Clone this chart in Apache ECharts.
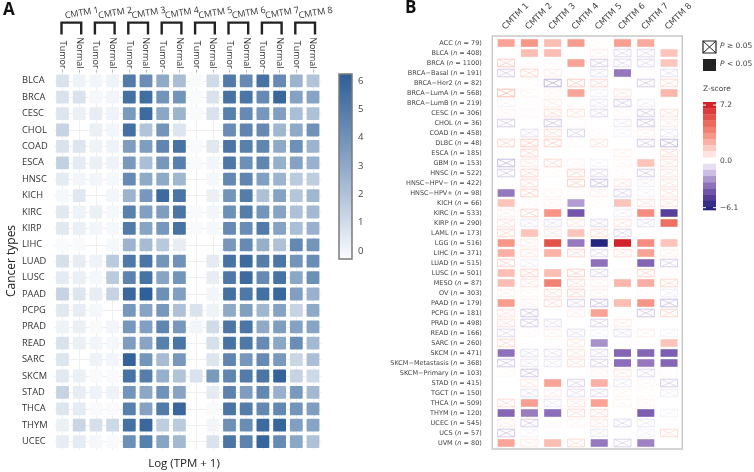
<!DOCTYPE html>
<html><head><meta charset="utf-8">
<style>html,body{margin:0;padding:0;background:#fff}#c{width:754px;height:472px}</style>
<script src="https://cdn.jsdelivr.net/npm/echarts@6/dist/echarts.min.js"></script>
</head><body><div id="c"></div>
<script>
const genes=['CMTM 1','CMTM 2','CMTM 3','CMTM 4','CMTM 5','CMTM 6','CMTM 7','CMTM 8'];
const tissues=['Tumor','Normal','Tumor','Normal','Tumor','Normal','Tumor','Normal','Tumor','Normal','Tumor','Normal','Tumor','Normal','Tumor','Normal'];
const cancersA=['BLCA','BRCA','CESC','CHOL','COAD','ESCA','HNSC','KICH','KIRC','KIRP','LIHC','LUAD','LUSC','PAAD','PCPG','PRAD','READ','SARC','SKCM','STAD','THCA','THYM','UCEC'];
const logTpm=[
[1.0,.4,.3,.4,5,4.3,3.2,2.4,.1,1.3,5,4.4,5.3,4.4,2.8,2.2],
[1.0,1.0,.2,.3,5.4,5.5,4,4,.1,1.0,5.3,5.2,4.4,5.7,3.5,3.4],
[.9,.5,.6,.4,3.8,5.6,3.3,2.8,.1,1.0,4.8,4.4,3.9,3.6,2.4,2.3],
[1.6,0,.5,.3,5.4,2.2,4,.9,0,0,4.3,4.6,4.4,2.7,3.2,4.1],
[1.0,.9,.4,.4,3.7,3.7,4.6,5.3,.1,.8,5.2,4.8,4.6,3.2,4.2,2.8],
[1.7,.7,.5,.4,3.8,2.4,3.9,4.8,.1,.3,5.1,4.2,4.6,3.0,3.5,2.9],
[.7,.3,.3,.2,4.4,3.2,3.2,2.7,0,.2,4.5,4.6,3.6,2.8,1.9,1.8],
[.2,.8,0,.3,2.8,3.9,5.6,5.2,0,.5,4,4.9,2.3,3.5,2.1,2.7],
[.8,.4,.5,.2,4.8,3.6,3.7,5.2,.1,.3,4.2,4.9,4,3.4,2.3,2.6],
[.8,.5,.3,.2,5,3.4,3.9,5.3,.1,.2,4.4,4.3,5,3.5,2.4,2.9],
[.1,.1,0,.2,2.8,2.5,2,.6,0,0,3.9,4.4,3,2.3,4.5,4],
[1.1,.6,.4,1.9,5.1,5.2,4,4.1,0,.7,5.3,5.6,4.9,5.2,4,4.3],
[.7,.5,.2,1.9,4.7,5.3,3.4,4,0,.6,5.1,5.6,4.4,5.3,3.3,4.2],
[1.6,.9,.6,1.6,5.7,6,4.2,3.6,0,.3,5.4,5.1,5.4,5.7,3.6,2.9],
[.8,.6,.2,0,3.9,3.4,3.9,2.3,1,.4,3.2,3.6,2.7,3.5,1.6,3.2],
[.4,.5,.1,.3,3.9,3.6,4.6,3.9,.3,1.3,5.2,5.2,3.2,3.7,3.5,3.4],
[1.0,.5,.3,.2,3.7,3.4,4.8,5.2,0,1.1,5.3,5.1,4.4,3.3,4.3,2.6],
[.9,0,.4,.3,5.9,4,2.5,3.9,0,.9,4.6,3.9,4.4,3.8,1.5,2.4],
[.8,.5,.1,.1,5.3,4.9,3,2.2,1,3.8,4.6,5,5.2,5.9,1.6,1.4],
[1.6,.6,.4,.4,4,3.3,4.1,3.4,0,.7,4.7,3.7,4.5,2.9,3.8,2.6],
[.9,.7,.1,.1,4.8,3.5,5,5.7,0,.1,5.2,4.9,4.5,4.5,4,3.7],
[.5,1.5,1.1,1.4,5.4,5.7,1.8,1.9,0,.3,4.2,4.3,5.6,5.8,3.6,3.4],
[.6,.7,.2,.1,4.2,4.8,3.4,2.6,0,1.0,5.2,4.7,5.8,4.4,3.3,2.3]];
const logTicks=[0,1,2,3,4,5,6];
const logRange=[-0.28,6.25];

const cancersB=['ACC','BLCA','BRCA','BRCA−Basal','BRCA−Her2','BRCA−LumA','BRCA−LumB','CESC','CHOL','COAD','DLBC','ESCA','GBM','HNSC','HNSC−HPV−','HNSC−HPV+','KICH','KIRC','KIRP','LAML','LGG','LIHC','LUAD','LUSC','MESO','OV','PAAD','PCPG','PRAD','READ','SARC','SKCM','SKCM−Metastasis','SKCM−Primary','STAD','TGCT','THCA','THYM','UCEC','UCS','UVM'];
const countsB=[79,408,1100,191,82,568,219,306,36,458,48,185,153,522,422,98,66,533,290,173,516,371,515,501,87,303,179,181,498,166,260,471,368,103,415,150,509,120,545,57,80];
const zScores=[
[2.8,3.2,2,3,.1,2.9,2.6,.05],
[.05,2,2,.05,.3,-.6,-.6,1.8],
[1,.1,.1,2.8,-.8,-.6,-.6,1.7],
[-.8,.8,.4,.05,-.5,-3,.05,-.5],
[0,.1,-1.2,1,.8,.05,-.8,.7],
[1.3,.2,.2,2.7,-.3,.5,.05,2.2],
[-.2,0,.4,.1,-.4,-.8,-.3,0],
[.2,.1,.7,.6,-.6,.2,-.8,.6],
[-.8,0,-.9,.1,0,-.4,-.9,.4],
[0,-.5,.7,-.7,.1,-.2,.3,-.4],
[.8,1,.9,.1,.5,0,-.8,-1.1],
[0,.8,0,0,0,.3,.05,.7],
[-1.1,.5,.8,.2,-.2,.2,1.8,.6],
[-.8,.8,.1,.8,-.6,.1,-.8,.5],
[0,.7,0,.9,-1,.5,-.3,.6],
[-3,.9,.2,.1,.3,-.7,-.2,.6],
[1.8,.1,.2,-2.3,.1,1.8,.6,.6],
[.3,.9,3.3,-3.9,0,-.3,3.5,-4.7],
[.6,-.4,-.5,.5,-.6,.5,-.5,4.6],
[.8,1.8,.5,1.8,.7,-.7,0,.05],
[3.2,.4,5.6,-3,-6.1,7.2,3.5,1.8],
[2.4,.5,2.3,.8,-.6,.6,2.8,.3],
[.9,-.3,0,0,-3.2,0,-3.5,-.8],
[2,.9,2,.9,-.7,.1,.8,.1],
[2,.6,4,.7,.3,2.2,2.5,.8],
[.3,.2,.7,.8,.3,0,.1,-.3],
[3,.3,.7,-.7,-1,2,3.3,-1],
[.6,-.9,0,.3,2.8,.1,-.9,.8],
[.6,-.8,-.5,0,-.7,.4,.05,0],
[-.6,.1,.3,-.5,-.2,-.5,.3,-.2],
[.8,0,.1,.5,-2.5,.05,.05,1.8],
[-3.2,-.5,-.5,.6,-.6,-3.5,-3.5,-3.7],
[-.9,-.4,-.4,.6,-.7,-3.3,-3,-3.5],
[.1,-.9,0,0,.2,.5,-.6,.1],
[0,.5,2.8,-.7,2.4,-.4,.2,-.8],
[0,-.5,.4,-.5,-.6,.2,.1,-.3],
[.7,2.9,-.4,.5,2.8,.2,.2,0],
[-3.5,-2.9,-3.3,.7,.7,0,-3.7,-.2],
[.4,-.8,.1,.2,.5,-.6,-.4,.05],
[-.9,-.2,0,0,-.4,.05,-.2,.7],
[2.7,.4,2,.7,-3,-.7,-2.8,.05]];
const pSignificant=[
'11110110','01100001','00010001','00000100','00000000','00010001','00000000','00000000','00000000','00000000','00000000','00000000','00000010','00000000','00000000','10000000','10010100','00110011','00000001','01010000','10111111','10100010','00001010','10100000','10100110','00000000','10000110','00001000','00000000','00000000','00001001','10000111','00000111','00000000','00101000','00000000','01001000','11100010','00000000','00000000','10101010'];
const zStops=[-6.1,-4.5,-3,-1.5,0,1.8,3,4.8,7.2];
const zStopColors=['#24247d','#5f43a0','#9678bf','#cfc3e4','#ffffff','#fdc4bb','#f89c8e','#ec6b5b','#d2232b'];
const zBandEdges=[7.6,6.8,6,5.2,4.4,3.6,2.8,2,1.2,.4,-.4,-1.2,-2,-2.8,-3.6,-4.4,-5.2,-6,-6.4];
const zLabels=[7.2,0,-6.1];

function zColor(z){
  if(z<=zStops[0])return zStopColors[0];
  for(let i=1;i<zStops.length;i++){
    if(z<=zStops[i]){return echarts.color.lerp((z-zStops[i-1])/(zStops[i]-zStops[i-1]),[zStopColors[i-1],zStopColors[i]]);}
  }
  return zStopColors[zStopColors.length-1];
}
function logColor(v){return echarts.color.lerp(Math.min(v/6.1,1),['#fcfdfe','#2c5e96']);}

const fA='"Open Sans"',fB='"DejaVu Sans"';
const aData=[];logTpm.forEach((r,y)=>r.forEach((v,x)=>aData.push([x,y,v])));
const bData=[];zScores.forEach((r,y)=>r.forEach((z,x)=>bData.push([x,y,z,+pSignificant[y][x]])));

const chart=echarts.init(document.getElementById('c'),null,{renderer:'canvas'});
const gridA={left:54.15,top:72.6,width:267.2,height:377.2};
const gridB={left:494.5,top:38,width:186.2,height:410};
chart.setOption({
 animation:false,
 grid:[gridA,
  {left:339,top:52.67,width:13,height:226.67},
  gridB,
  {left:492.3,top:36,width:190,height:413,show:true,borderColor:'#c9c9c9',borderWidth:1.5,backgroundColor:'transparent'},
  {left:703,top:102,width:13,height:108}],
 xAxis:[
  {gridIndex:0,type:'category',position:'top',data:tissues,
   axisLine:{show:false},axisTick:{show:true,alignWithLabel:true,length:3,lineStyle:{color:'#bbb'}},
   splitLine:{show:true,alignWithLabel:true,lineStyle:{color:'#efefef',width:1}},
   axisLabel:{interval:0,rotate:90,fontFamily:fA,fontSize:9,color:'#333',margin:4,padding:[5,0,0,0]}},
  {gridIndex:1,type:'category',data:[''],show:false},
  {gridIndex:2,type:'category',position:'top',data:genes,offset:2,
   axisLine:{show:false},axisTick:{alignWithLabel:true,length:4,lineStyle:{color:'#999'}},
   axisLabel:{show:false}},
  {gridIndex:3,type:'value',show:false},
  {gridIndex:4,type:'category',data:[''],show:false}],
 yAxis:[
  {gridIndex:0,type:'category',inverse:true,data:cancersA,
   axisLine:{show:false},axisTick:{show:false},
   splitLine:{show:true,alignWithLabel:true,lineStyle:{color:'#efefef',width:1}},
   axisLabel:{interval:0,align:'left',margin:32.15,fontFamily:fA,fontSize:9.3,color:'#333'}},
  {gridIndex:1,type:'value',position:'right',min:-1,max:7,interval:1,
   axisLine:{show:false},axisTick:{show:false},splitLine:{show:false},
   axisLabel:{margin:6,fontFamily:fA,fontSize:9.5,color:'#444',
     formatter:v=>logTicks.indexOf(v)>=0?String(v):''}},
  {gridIndex:2,type:'category',inverse:true,data:cancersB,offset:2.2,
   axisLine:{show:false},axisTick:{alignWithLabel:true,length:5,lineStyle:{color:'#999'}},splitLine:{show:false},
   axisLabel:{interval:0,margin:10.5,fontFamily:fB,fontSize:6.5,color:'#444',
     formatter:(v,i)=>'{t|'+v+' (}{i|n}{t| = '+countsB[i]+')}',
     rich:{t:{fontFamily:fB,fontSize:6.5,color:'#444'},i:{fontFamily:fB,fontSize:6.5,fontStyle:'italic',color:'#444'}}}},
  {gridIndex:3,type:'value',show:false},
  {gridIndex:4,type:'value',position:'right',min:-6.4,max:7.6,
   axisLine:{show:false},splitLine:{show:false},
   axisTick:{show:false},
   axisLabel:{margin:4,fontFamily:fB,fontSize:7.5,color:'#444',customValues:zLabels,
     formatter:v=>(v<0?'−':'')+Math.abs(v).toFixed(1)}}],
 series:[
  {type:'custom',xAxisIndex:0,yAxisIndex:0,data:aData,encode:{x:0,y:1},z:3,silent:true,
   renderItem(p,api){
     const v=api.value(2);if(v<=0)return null;
     const c=api.coord([api.value(0),api.value(1)]);
     const w=12.8,h=12.8;
     return {type:'rect',shape:{x:c[0]-w/2,y:c[1]-h/2,width:w,height:h,r:.8},style:{fill:logColor(v)}};
   }},
  {type:'custom',xAxisIndex:0,yAxisIndex:0,data:genes.map((g,i)=>[2*i,2*i+1,i]),encode:{x:[0,1]},z:4,silent:true,
   renderItem(p,api){
     const top=p.coordSys.y;
     const x0=api.coord([api.value(0),0])[0]-1,x1=api.coord([api.value(1),0])[0]+2;
     return {type:'group',children:[
       {type:'polyline',shape:{points:[[x0,top-38],[x0,top-50],[x1,top-50],[x1,top-38]]},style:{fill:null,stroke:'#222',lineWidth:2.4}},
       {type:'text',x:(x0+x1)/2+10.5,y:13,rotation:10*Math.PI/180,style:{text:genes[api.value(2)],align:'center',verticalAlign:'middle',fontFamily:fA,fontSize:9,fill:'#333'}}
     ]};
   }},
  {type:'custom',xAxisIndex:1,yAxisIndex:1,data:[[0,logRange[0],logRange[1]]],encode:{x:0,y:[1,2]},silent:true,
   renderItem(p,api){
     const a=api.coord([0,api.value(1)]),b=api.coord([0,api.value(2)]),s=p.coordSys;
     return {type:'rect',shape:{x:s.x,y:b[1],width:s.width,height:a[1]-b[1]},
       style:{fill:new echarts.graphic.LinearGradient(0,0,0,1,[{offset:0,color:'#2c5e96'},{offset:.5,color:'#90a9c9'},{offset:1,color:'#fcfdfe'}]),stroke:'#7a7a7a',lineWidth:1.5}};
   }},
  {type:'custom',xAxisIndex:2,yAxisIndex:2,data:bData,encode:{x:0,y:1},z:3,silent:true,
   renderItem(p,api){
     const z=api.value(2),sig=api.value(3);
     const c=api.coord([api.value(0),api.value(1)]);
     const w=17,h=7.6,x=c[0]-w/2,y=c[1]-h/2;
     const col=zColor(sig?z:z*1.5);
     if(z===0)return null;
     if(sig)return {type:'rect',shape:{x,y,width:w,height:h},style:{fill:col}};
     return {type:'group',children:[
       {type:'rect',shape:{x,y,width:w,height:h},style:{fill:'#fff',stroke:col,lineWidth:1}},
       {type:'line',shape:{x1:x,y1:y,x2:x+w,y2:y+h},style:{stroke:col,lineWidth:.8}},
       {type:'line',shape:{x1:x,y1:y+h,x2:x+w,y2:y},style:{stroke:col,lineWidth:.8}}]};
   }},
  {type:'custom',xAxisIndex:2,yAxisIndex:2,data:genes.map((g,i)=>[i,0,i]),encode:{x:0,y:1},z:4,silent:true,
   renderItem(p,api){
     const c=api.coord([api.value(0),0]);
     return {type:'text',x:c[0]+9.5,y:16.5,rotation:Math.PI/4,style:{text:genes[api.value(2)],align:'center',verticalAlign:'middle',fontFamily:fB,fontSize:8.5,fill:'#444'}};
   }},
  {type:'custom',xAxisIndex:4,yAxisIndex:4,data:zBandEdges.slice(0,-1).map((e,i)=>[0,e,zBandEdges[i+1]]),encode:{x:0,y:[1,2]},silent:true,
   renderItem(p,api){
     const hi=api.value(1),lo=api.value(2),a=api.coord([0,hi]),b=api.coord([0,lo]),s=p.coordSys;
     return {type:'rect',shape:{x:s.x,y:a[1],width:s.width,height:b[1]-a[1]+.3},style:{fill:zColor((hi+lo)/2)}};
   }},
  {type:'custom',xAxisIndex:4,yAxisIndex:4,z:5,data:[[0,7.2],[0,-6.1]],encode:{x:0,y:1},silent:true,
   renderItem(p,api){
     const a=api.coord([0,api.value(1)]),s=p.coordSys;
     return {type:'group',children:[
       {type:'line',shape:{x1:s.x,y1:a[1],x2:s.x+3,y2:a[1]},style:{stroke:'#fff',lineWidth:1}},
       {type:'line',shape:{x1:s.x+s.width-3,y1:a[1],x2:s.x+s.width,y2:a[1]},style:{stroke:'#fff',lineWidth:1}}]};
   }}
 ],
 graphic:[
  {type:'text',x:3,y:2,style:{text:'A',fontFamily:fA,fontWeight:'bold',fontSize:17,fill:'#111'}},
  {type:'text',x:405,y:0,style:{text:'B',fontFamily:fA,fontWeight:'bold',fontSize:17,fill:'#111'}},
  {type:'text',x:12,y:261,rotation:Math.PI/2,style:{text:'Cancer types',align:'center',verticalAlign:'middle',fontFamily:fA,fontSize:12,fill:'#222'}},
  {type:'text',x:184,y:464,style:{text:'Log (TPM + 1)',align:'center',verticalAlign:'middle',fontFamily:fA,fontSize:11.5,fill:'#222'}},
  {type:'group',x:703,y:41,children:[
    {type:'rect',shape:{x:0,y:0,width:13,height:12},style:{fill:'#fff',stroke:'#222',lineWidth:1.2}},
    {type:'line',shape:{x1:0,y1:0,x2:13,y2:12},style:{stroke:'#222',lineWidth:1}},
    {type:'line',shape:{x1:0,y1:12,x2:13,y2:0},style:{stroke:'#222',lineWidth:1}}]},
  {type:'rect',shape:{x:703,y:59,width:13,height:12},style:{fill:'#222'}},
  {type:'text',x:720,y:46,style:{text:'{i|P} ≥ 0.05',verticalAlign:'middle',fontFamily:fB,fontSize:7.5,fill:'#444',rich:{i:{fontStyle:'italic',fontFamily:fB,fontSize:7.5,fill:'#444'}}}},
  {type:'text',x:720,y:64,style:{text:'{i|P} < 0.05',verticalAlign:'middle',fontFamily:fB,fontSize:7.5,fill:'#444',rich:{i:{fontStyle:'italic',fontFamily:fB,fontSize:7.5,fill:'#444'}}}},
  {type:'text',x:703,y:89,style:{text:'Z-score',verticalAlign:'middle',fontFamily:fB,fontSize:7.5,fill:'#444'}}
 ]
});
</script></body></html>
